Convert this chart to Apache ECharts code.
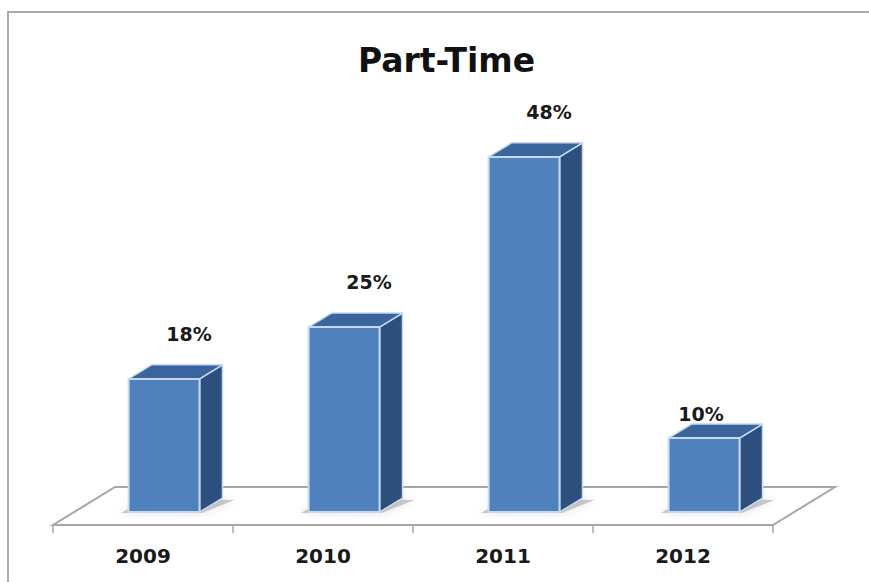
<!DOCTYPE html>
<html>
<head>
<meta charset="utf-8">
<title>Part-Time</title>
<script src="https://cdn.jsdelivr.net/npm/echarts@6/dist/echarts.min.js"></script>
<style>
  html, body { margin: 0; padding: 0; background: #ffffff; }
  #chart { width: 869px; height: 582px; }
</style>
</head>
<body>
<div id="chart"></div>
<script>
// Share of part-time, by year
const years = ['2009', '2010', '2011', '2012'];
const partTimePct = [18, 25, 48, 10];
const valueLabels = ['18%', '25%', '48%', '10%'];

// Oblique projection of the floor's depth (pixels) and where the bars stand on it
const DEPTH = [62, -38];
const BAR_FRONT = 0.34;   // fraction of floor depth in front of the bars
const BAR_DEPTH = 0.37;   // fraction of floor depth taken by a bar
const BAR_WIDTH = 0.394;  // fraction of category band

const COLORS = {
  front: '#4F81BD',
  top: '#3A649B',
  side: '#2D4F7D',
  edge: '#C5D9F1',
  floor: '#A6A6A6',
  text: '#1a1a1a'
};

const LABEL_FONT = 'bold 19px "DejaVu Sans", sans-serif';

function renderFloor(params, api) {
  const cs = params.coordSys;
  const yb = cs.y + cs.height;
  const x0 = cs.x, x1 = cs.x + cs.width;
  return {
    type: 'polygon',
    shape: {
      points: [[x0, yb], [x1, yb], [x1 + DEPTH[0], yb + DEPTH[1]], [x0 + DEPTH[0], yb + DEPTH[1]]]
    },
    style: { fill: '#ffffff', stroke: COLORS.floor, lineWidth: 2 },
    z2: 0
  };
}

function renderBar(params, api) {
  const i = api.value(0);
  const v = api.value(1);
  const base = api.coord([i, 0]);
  const top = api.coord([i, v]);
  const band = api.size([1, 0])[0];
  const w = band * BAR_WIDTH;

  const ox = DEPTH[0] * BAR_FRONT, oy = DEPTH[1] * BAR_FRONT;
  const dx = DEPTH[0] * BAR_DEPTH, dy = DEPTH[1] * BAR_DEPTH;
  const cx = base[0] + ox;
  const x0 = cx - w / 2, x1 = cx + w / 2;
  const yb = base[1] + oy;
  const yt = top[1] + oy;

  // value label sits above the top face; the last one is tucked down closer to its bar
  let lx = cx + 25, ly = yt - 45;
  if (i === 3) { lx = cx - 3; ly = yt - 24; }

  return {
    type: 'group',
    children: [
      {
        type: 'polygon',
        shape: { points: [[x0 - 8, yb + 1], [x1 + 2, yb + 1], [x1 + dx + 12, yb + dy + 2], [x0 + dx - 4, yb + dy]] },
        style: { fill: 'rgba(110,110,110,0.35)', shadowBlur: 8, shadowColor: 'rgba(0,0,0,0.35)' },
        z2: 1
      },
      {
        type: 'polygon',
        shape: { points: [[x1, yt], [x1 + dx, yt + dy], [x1 + dx, yb + dy], [x1, yb]] },
        style: { fill: COLORS.side, stroke: COLORS.edge, lineWidth: 1.5, lineJoin: 'round' },
        z2: 2
      },
      {
        type: 'polygon',
        shape: { points: [[x0, yt], [x1, yt], [x1 + dx, yt + dy], [x0 + dx, yt + dy]] },
        style: { fill: COLORS.top, stroke: COLORS.edge, lineWidth: 1.5, lineJoin: 'round' },
        z2: 2
      },
      {
        type: 'rect',
        shape: { x: x0, y: yt, width: w, height: yb - yt },
        style: { fill: COLORS.front, stroke: COLORS.edge, lineWidth: 2 },
        z2: 3
      },
      {
        type: 'text',
        x: lx,
        y: ly,
        style: {
          text: valueLabels[i],
          font: LABEL_FONT,
          fill: COLORS.text,
          align: 'center',
          verticalAlign: 'middle'
        },
        z2: 4
      }
    ]
  };
}

const chart = echarts.init(document.getElementById('chart'), null, { renderer: 'svg' });

chart.setOption({
  animation: false,
  backgroundColor: '#ffffff',
  title: {
    text: 'Part-Time',
    left: 353,
    top: 39,
    textStyle: {
      fontFamily: '"DejaVu Sans", sans-serif',
      fontWeight: 'bold',
      fontSize: 33,
      color: '#111111'
    }
  },
  graphic: [
    {
      // outer frame: only the left and top edges fall inside the page
      type: 'polyline',
      silent: true,
      shape: { points: [[8, 640], [8, 12], [960, 12]] },
      style: { fill: 'none', stroke: '#ABABAB', lineWidth: 2 },
      z: -10
    }
  ],
  grid: { left: 53, right: 96, top: 155, bottom: 57, containLabel: false },
  xAxis: {
    type: 'category',
    data: years,
    boundaryGap: true,
    axisLine: { show: true, lineStyle: { color: COLORS.floor, width: 2 } },
    axisTick: { show: true, length: 8, lineStyle: { color: COLORS.floor, width: 1.5 } },
    axisLabel: {
      margin: 21,
      fontFamily: '"DejaVu Sans", sans-serif',
      fontWeight: 'bold',
      fontSize: 20,
      color: COLORS.text
    },
    splitLine: { show: false }
  },
  yAxis: {
    type: 'value',
    min: 0,
    max: 50,
    show: false,
    splitLine: { show: false }
  },
  series: [
    {
      type: 'custom',
      name: 'floor',
      renderItem: renderFloor,
      data: [[0, 0]],
      encode: { x: 0, y: 1 },
      silent: true,
      z: 1
    },
    {
      type: 'custom',
      name: 'Part-Time',
      renderItem: renderBar,
      data: partTimePct.map((v, i) => [i, v]),
      encode: { x: 0, y: 1 },
      z: 2
    }
  ]
});
</script>
</body>
</html>
